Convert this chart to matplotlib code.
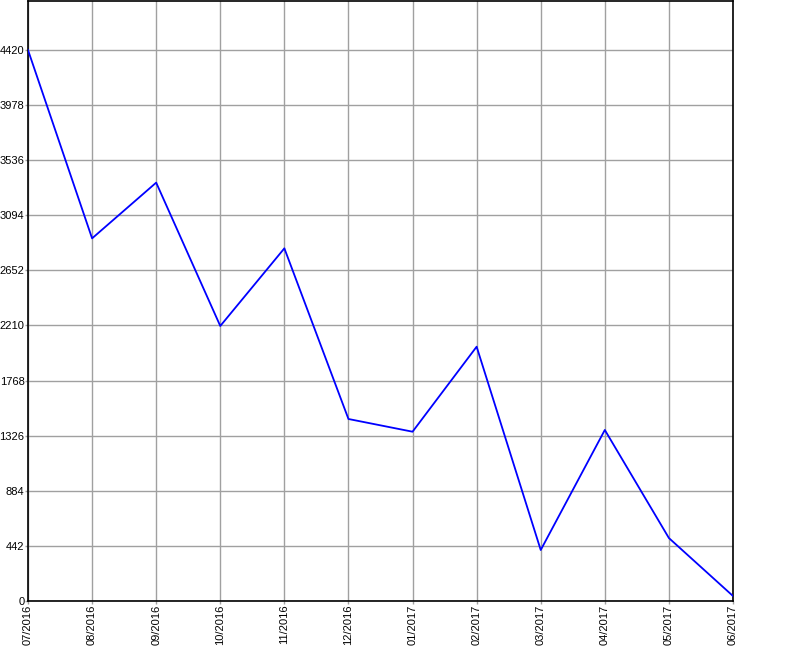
import matplotlib
matplotlib.use("Agg")
import matplotlib.pyplot as plt

months = ["07/2016", "08/2016", "09/2016", "10/2016", "11/2016", "12/2016",
          "01/2017", "02/2017", "03/2017", "04/2017", "05/2017", "06/2017"]
values = [4420, 2909, 3356, 2206, 2829, 1460, 1358, 2040, 409, 1372, 505, 40]
yticks = [0, 442, 884, 1326, 1768, 2210, 2652, 3094, 3536, 3978, 4420]

plt.rcParams["font.family"] = ["Liberation Sans", "DejaVu Sans"]

fig = plt.figure(figsize=(8, 6.5), dpi=100)
ax = fig.add_axes([28/800, 49/650, 705/800, 600/650])

x = list(range(len(months)))
ax.plot(x, values, color="#0000ff", linewidth=1.3, zorder=3)

ax.set_xlim(0, len(months) - 1)
ax.set_ylim(0, 4813)
ax.set_xticks(x)
ax.set_xticklabels(months, rotation=90, fontsize=8)
ax.set_yticks(yticks)
ax.set_yticklabels([str(v) for v in yticks], fontsize=8)
ax.grid(True, color="#a0a0a0", linewidth=1.0)
ax.set_axisbelow(True)
ax.tick_params(length=2, width=1, pad=0.5, color="#a0a0a0")
for s in ax.spines.values():
    s.set_linewidth(1.2)
    s.set_color("black")

fig.savefig("out.png", dpi=100)
